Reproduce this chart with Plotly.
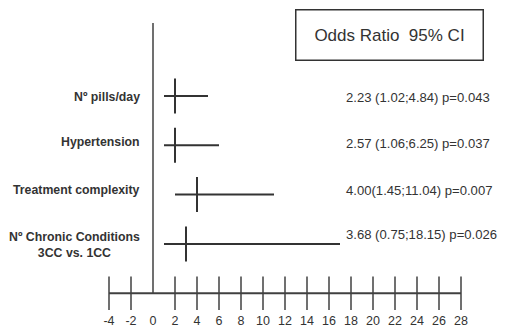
import plotly.graph_objects as go

# ---- data ----
factors = ["Nº pills/day", "Hypertension", "Treatment complexity",
           "Nº Chronic Conditions<br>3CC vs. 1CC"]
# positions of the marks as drawn in the picture
odds_ratio = [2.0, 2.0, 4.0, 3.0]
ci_low = [1.0, 1.0, 2.0, 1.0]
ci_high = [5.0, 6.0, 11.0, 17.0]
# printed results
result_text = ["2.23 (1.02;4.84) p=0.043", "2.57 (1.06;6.25) p=0.037",
               "4.00(1.45;11.04) p=0.007", "3.68 (0.75;18.15) p=0.026"]
tick_values = [-4, -2, 0, 2, 4, 6, 8, 10, 12, 14, 16, 18, 20, 22, 24, 26, 28]
tick_labels = [str(v) for v in tick_values]

# ---- layout constants ----
INK = "#333333"
LINE = "#404040"
FONT = "Liberation Sans, Arial, sans-serif"
n = len(factors)
rows = [n - i for i in range(n)]
axis_y = 0.0
top_y = 5.48
left_shift = [-1, 3, 5, -1]
right_shift = [-1, 2, 4, 9]

fig = go.Figure()

# reference line at 0
fig.add_trace(go.Scatter(x=[0, 0], y=[axis_y, top_y], mode="lines",
                         line=dict(color=LINE, width=1.5),
                         hoverinfo="skip", cliponaxis=False))
# horizontal axis line
fig.add_trace(go.Scatter(x=[tick_values[0], tick_values[-1]], y=[axis_y, axis_y],
                         mode="lines", line=dict(color=LINE, width=2),
                         hoverinfo="skip", cliponaxis=False))
# crossing ticks (none at 0, where the reference line meets the axis)
tx = [t for t in tick_values if t != 0]
fig.add_trace(go.Scatter(x=tx, y=[axis_y] * len(tx), mode="markers",
                         marker=dict(symbol="line-ns", size=24,
                                     line=dict(color=LINE, width=1.5)),
                         hoverinfo="skip", cliponaxis=False))
# odds ratios with CI
fig.add_trace(go.Scatter(
    x=odds_ratio, y=rows, mode="markers",
    marker=dict(symbol="line-ns", size=25, line=dict(color=INK, width=2)),
    error_x=dict(type="data", symmetric=False,
                 array=[h - o for h, o in zip(ci_high, odds_ratio)],
                 arrayminus=[o - l for o, l in zip(odds_ratio, ci_low)],
                 width=0, thickness=2, color=INK),
    cliponaxis=False))

annotations = []
for f, y, s in zip(factors, rows, left_shift):
    annotations.append(dict(x=-1.0, y=y, xref="x", yref="y", yshift=s,
                            text="<b>" + f.replace("<br>", "</b><br><b>") + "</b>",
                            showarrow=False, xanchor="right", yanchor="middle",
                            align="center", font=dict(family=FONT, size=12.3, color=INK)))
for t, y, s in zip(result_text, rows, right_shift):
    annotations.append(dict(x=17.35, y=y, xref="x", yref="y", yshift=s, text=t,
                            showarrow=False, xanchor="left", yanchor="middle",
                            font=dict(family=FONT, size=13.1, color=INK)))
annotations.append(dict(x=21.5, y=5.24, xref="x", yref="y",
                        text="Odds Ratio\u00a0 95% CI", showarrow=False,
                        width=184, height=47, bordercolor=INK, borderwidth=1.5,
                        font=dict(family=FONT, size=17, color=INK)))

fig.update_layout(
    width=498, height=323,
    margin=dict(l=101, r=45, t=0, b=26),
    paper_bgcolor="white", plot_bgcolor="white",
    showlegend=False,
    annotations=annotations,
    xaxis=dict(range=[tick_values[0], tick_values[-1]], tickvals=tick_values,
               ticktext=tick_labels, ticklabelstandoff=6,
               showgrid=False, zeroline=False, showline=False, ticks="",
               tickfont=dict(family=FONT, size=12.5, color=INK), fixedrange=True),
    yaxis=dict(range=[-0.239, 5.785], visible=False, fixedrange=True),
)

fig.write_html("out.html")
